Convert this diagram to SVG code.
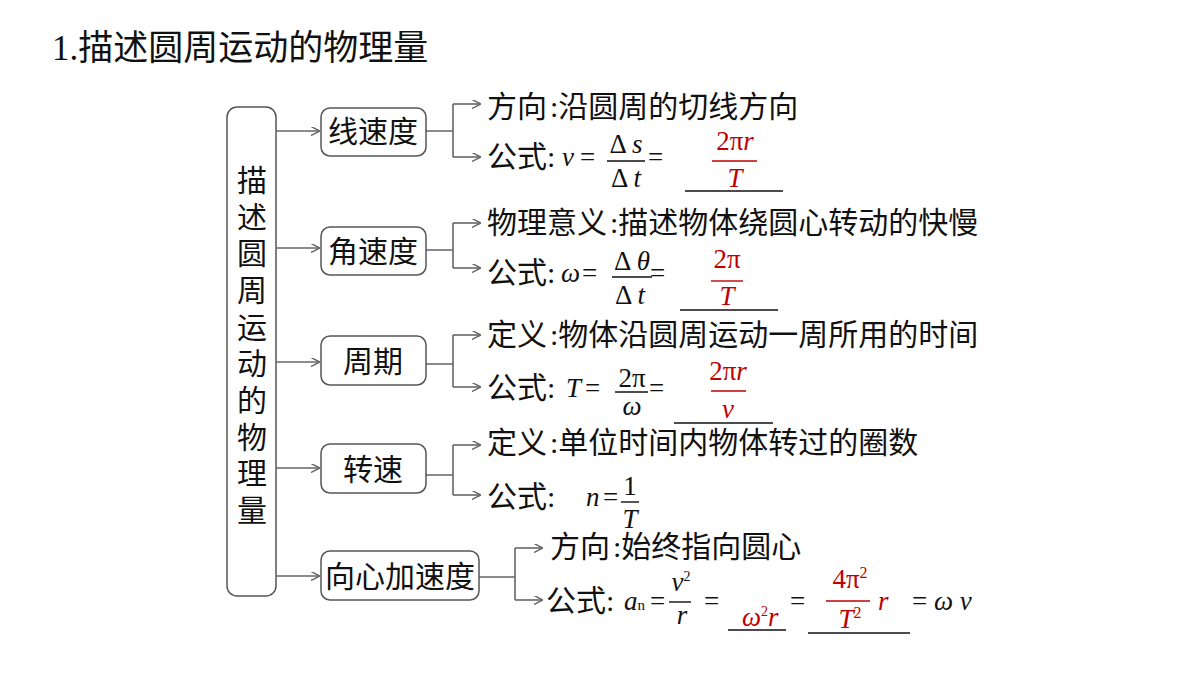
<svg xmlns="http://www.w3.org/2000/svg" width="1200" height="675" viewBox="0 0 1200 675">
<defs>
<marker id="ar" viewBox="0 0 10 10" refX="9" refY="5" markerWidth="9" markerHeight="9" markerUnits="userSpaceOnUse" orient="auto"><path d="M0,0 L10,5 L0,10" fill="none" stroke="#666" stroke-width="1.6"/></marker>
<style>
text{font-family:"Liberation Serif","Noto Sans CJK SC",serif;fill:#111}
.t{font-size:27px}
.z{font-size:30px}
.i{font-style:italic}
.r{fill:#c00000}
.box{fill:#fff;stroke:#555;stroke-width:1.5}
.c{fill:none;stroke:#666;stroke-width:1.6}
.fl{stroke:#111;stroke-width:1.4}
.rl{stroke:#c00000;stroke-width:1.4}
</style>
</defs>
<rect width="1200" height="675" fill="#fff"/>
<text x="52" y="60" font-size="35">1.描述圆周运动的物理量</text>
<g id="main"><rect class="box" x="227" y="107" width="49" height="489" rx="10"/>
<text x="252" font-size="30" text-anchor="middle"><tspan x="252" y="191">描</tspan><tspan x="252" y="228">述</tspan><tspan x="252" y="264">圆</tspan><tspan x="252" y="301">周</tspan><tspan x="252" y="338">运</tspan><tspan x="252" y="374">动</tspan><tspan x="252" y="411">的</tspan><tspan x="252" y="448">物</tspan><tspan x="252" y="484">理</tspan><tspan x="252" y="521">量</tspan></text></g>
<g id="connectors">
<path class="c" marker-end="url(#ar)" d="M276,131 H319"/>
<path class="c" marker-end="url(#ar)" d="M276,248 H319"/>
<path class="c" marker-end="url(#ar)" d="M276,362 H319"/>
<path class="c" marker-end="url(#ar)" d="M276,468 H319"/>
<path class="c" marker-end="url(#ar)" d="M276,576 H319"/>
<path class="c" d="M426,131 H453 M453,104 V157"/>
<path class="c" marker-end="url(#ar)" d="M453,104 H480"/><path class="c" marker-end="url(#ar)" d="M453,157 H480"/>
<path class="c" d="M426,250 H453 M453,223 V268"/>
<path class="c" marker-end="url(#ar)" d="M453,223 H480"/><path class="c" marker-end="url(#ar)" d="M453,268 H480"/>
<path class="c" d="M426,364 H453 M453,335 V387"/>
<path class="c" marker-end="url(#ar)" d="M453,335 H480"/><path class="c" marker-end="url(#ar)" d="M453,387 H480"/>
<path class="c" d="M426,475 H453 M453,445 V495"/>
<path class="c" marker-end="url(#ar)" d="M453,445 H480"/><path class="c" marker-end="url(#ar)" d="M453,495 H480"/>
<path class="c" d="M479,577 H515 M515,548 V600"/>
<path class="c" marker-end="url(#ar)" d="M515,548 H542"/><path class="c" marker-end="url(#ar)" d="M515,600 H542"/>
</g>
<g id="n1"><rect class="box" x="321" y="108" width="105" height="48" rx="9"/><text class="z" x="373" y="142" text-anchor="middle">线速度</text></g>
<g id="n2"><rect class="box" x="321" y="227" width="105" height="48" rx="9"/><text class="z" x="373" y="262" text-anchor="middle">角速度</text></g>
<g id="n3"><rect class="box" x="321" y="336" width="105" height="49" rx="9"/><text class="z" x="373" y="372" text-anchor="middle">周期</text></g>
<g id="n4"><rect class="box" x="321" y="444" width="105" height="49" rx="9"/><text class="z" x="373" y="480" text-anchor="middle">转速</text></g>
<g id="n5"><rect class="box" x="321" y="551" width="158" height="49" rx="9"/><text class="z" x="400" y="587" text-anchor="middle">向心加速度</text></g>
<g id="f1">
<text class="z" x="487" y="117">方向<tspan dx="3">:</tspan>沿圆周的切线方向</text>
<text class="z" x="487" y="167">公式:</text>
<text class="t i" x="562" y="166">v</text><text class="t" x="580" y="166">=</text>
<text class="t" x="626" y="153" text-anchor="middle">Δ <tspan class="i">s</tspan></text><line class="fl" x1="607" y1="161" x2="645" y2="161"/><text class="t" x="626" y="187" text-anchor="middle">Δ <tspan class="i">t</tspan></text>
<text class="t" x="648" y="166">=</text>
<text class="t r" x="735" y="150" text-anchor="middle">2π<tspan class="i">r</tspan></text><line class="rl" x1="712" y1="161" x2="757" y2="161"/><text class="t r i" x="735" y="187" text-anchor="middle">T</text>
<line class="fl" x1="685" y1="191" x2="783" y2="191"/>
</g>
<g id="f2">
<text class="z" x="487" y="233">物理意义<tspan dx="3">:</tspan>描述物体绕圆心转动的快慢</text>
<text class="z" x="487" y="283">公式:</text>
<text class="t i" x="561" y="282">ω</text><text class="t" x="582" y="282">=</text>
<text class="t" x="632" y="270" text-anchor="middle">Δ <tspan class="i">θ</tspan></text><line class="fl" x1="612" y1="277" x2="652" y2="277"/><text class="t" x="630" y="304" text-anchor="middle">Δ <tspan class="i">t</tspan></text>
<text class="t" x="650" y="282">=</text>
<text class="t r" x="727" y="268" text-anchor="middle">2π</text><line class="rl" x1="711" y1="281" x2="743" y2="281"/><text class="t r i" x="727" y="305" text-anchor="middle">T</text>
<line class="fl" x1="680" y1="310" x2="778" y2="310"/>
</g>
<g id="f3">
<text class="z" x="487" y="345">定义<tspan dx="3">:</tspan>物体沿圆周运动一周所用的时间</text>
<text class="z" x="487" y="398">公式:</text>
<text class="t i" x="566" y="397">T</text><text class="t" x="585" y="397">=</text>
<text class="t" x="632" y="387" text-anchor="middle">2π</text><line class="fl" x1="615" y1="392" x2="648" y2="392"/><text class="t i" x="632" y="415" text-anchor="middle">ω</text>
<text class="t" x="649" y="397">=</text>
<text class="t r" x="728" y="380" text-anchor="middle">2π<tspan class="i">r</tspan></text><line class="rl" x1="711" y1="391" x2="746" y2="391"/><text class="t r i" x="728" y="418" text-anchor="middle">v</text>
<line class="fl" x1="674" y1="423" x2="773" y2="423"/>
</g>
<g id="f4">
<text class="z" x="487" y="453">定义<tspan dx="3">:</tspan>单位时间内物体转过的圈数</text>
<text class="z" x="487" y="507">公式:</text>
<text class="t i" x="586" y="506">n</text><text class="t" x="603" y="506">=</text>
<text class="t" x="630" y="495" text-anchor="middle">1</text><line class="fl" x1="621" y1="502" x2="639" y2="502"/><text class="t i" x="630" y="528" text-anchor="middle">T</text>
</g>
<g id="f5">
<text class="z" x="550" y="557">方向<tspan dx="3">:</tspan>始终指向圆心</text>
<text class="z" x="546" y="611">公式:</text>
<text class="t i" x="624" y="610">a<tspan font-size="15" font-style="normal">n</tspan></text><text class="t" x="650" y="610">=</text>
<text class="t i" x="681" y="591" text-anchor="middle">v<tspan font-size="14" font-style="normal" dy="-10">2</tspan></text><line class="fl" x1="669" y1="602" x2="691" y2="602"/><text class="t i" x="682" y="624" text-anchor="middle">r</text>
<text class="t" x="704" y="610">=</text>
<text class="t r i" x="742" y="626">ω<tspan font-size="14" font-style="normal" dy="-10">2</tspan><tspan dy="10">r</tspan></text>
<line class="fl" x1="728" y1="630" x2="786" y2="630"/>
<text class="t" x="790" y="610">=</text>
<text class="t r" x="850" y="588" text-anchor="middle">4π<tspan font-size="16" dy="-10">2</tspan></text><line class="rl" x1="826" y1="601" x2="870" y2="601"/><text class="t r" x="850" y="628" text-anchor="middle"><tspan class="i">T</tspan><tspan font-size="16" dy="-10">2</tspan></text>
<text class="t r i" x="878" y="610">r</text>
<line class="fl" x1="808" y1="633" x2="910" y2="633"/>
<text class="t" x="912" y="610">= <tspan class="i">ω v</tspan></text>
</g>
</svg>
